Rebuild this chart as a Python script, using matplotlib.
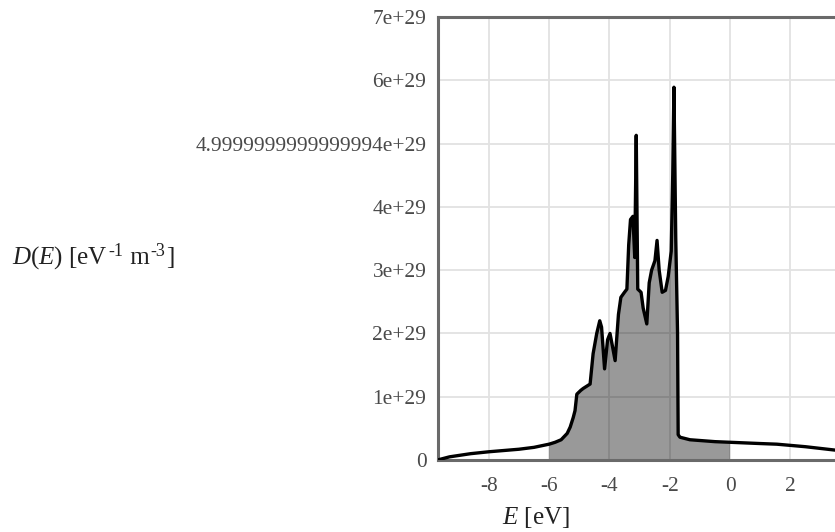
import matplotlib
matplotlib.use("Agg")
import matplotlib.pyplot as plt
import numpy as np

# Energy (eV) and density of states (eV^-1 m^-3)
energy = [-9.70, -9.30, -8.60, -8.00, -7.50, -7.00, -6.50, -6.00, -5.80, -5.60,
          -5.40, -5.30, -5.20, -5.14, -5.08, -4.95, -4.87, -4.64, -4.54, -4.42,
          -4.32, -4.26, -4.16, -4.06, -3.98, -3.90, -3.81, -3.70, -3.62, -3.50,
          -3.42, -3.36, -3.30, -3.22, -3.16, -3.11, -3.06, -2.95, -2.88, -2.76,
          -2.68, -2.60, -2.49, -2.42, -2.35, -2.25, -2.14, -2.05, -1.95, -1.90,
          -1.86, -1.80, -1.74, -1.72, -1.66, -1.33, -0.50, 0.00, 1.00, 1.55,
          2.50, 3.60]
dos_e29 = [0.00, 0.05, 0.10, 0.13, 0.15, 0.17, 0.20, 0.25, 0.28, 0.32,
           0.42, 0.52, 0.67, 0.78, 1.04, 1.10, 1.13, 1.20, 1.68, 2.00,
           2.20, 2.10, 1.44, 1.90, 2.00, 1.80, 1.57, 2.30, 2.57, 2.65,
           2.70, 3.40, 3.80, 3.85, 3.20, 5.13, 2.70, 2.65, 2.40, 2.15,
           2.80, 3.00, 3.15, 3.47, 3.00, 2.65, 2.68, 2.90, 3.30, 4.50,
           5.89, 3.50, 2.00, 0.40, 0.36, 0.32, 0.29, 0.28, 0.26, 0.25,
           0.21, 0.15]
fill_range = (-6.0, 0.0)
xticks = [-8, -6, -4, -2, 0, 2]
xtick_labels = ["-8", "-6", "-4", "-2", "0", "2"]
yticks = [0, 1e29, 2e29, 3e29, 4e29, 5e29, 6e29, 7e29]
ytick_labels = ["0", "1e+29", "2e+29", "3e+29", "4e+29",
                "4.9999999999999994e+29", "6e+29", "7e+29"]

E = np.array(energy)
D = np.array(dos_e29) * 1e29

plt.rcParams['font.family'] = ['Liberation Serif', 'DejaVu Serif']
plt.rcParams['mathtext.fontset'] = 'custom'
plt.rcParams['mathtext.rm'] = 'Liberation Serif'
plt.rcParams['mathtext.it'] = 'Liberation Serif:italic'
plt.rcParams['axes.unicode_minus'] = False

W, H = 835, 532
fig = plt.figure(figsize=(W / 100, H / 100), dpi=100)
left_px, right_px, top_px, bot_px = 437.5, 838.6, 17, 460
ax = fig.add_axes([left_px / W, 1 - bot_px / H, (right_px - left_px) / W, (bot_px - top_px) / H])

ax.set_xlim(-9.7, 3.6)
ax.set_ylim(0, 7e29)

ax.grid(True, color='#e2e2e2', linewidth=1.3, zorder=0)
ax.set_axisbelow(True)

mask = (E >= fill_range[0]) & (E <= fill_range[1])
ax.fill_between(E, 0, D, where=mask, facecolor='black', alpha=0.4, linewidth=0, zorder=2)
ax.plot(E, D, color='black', linewidth=2.4, solid_joinstyle='round', zorder=3)

ax.set_xticks(xticks)
ax.set_xticklabels(xtick_labels)
ax.set_yticks(yticks)
ax.set_yticklabels(ytick_labels)
ax.tick_params(axis='both', length=0, labelsize=15.4, colors='#4a4a4a')
ax.tick_params(axis='y', pad=8)
ax.tick_params(axis='x', pad=12)

for side in ['left', 'top', 'bottom', 'right']:
    ax.spines[side].set_color('#6a6a6a')
    ax.spines[side].set_linewidth(2.2)

lab_color = '#222222'
fig.text(536 / W, 1 - 517 / H, r"$E$ [eV]", ha='center', va='center', fontsize=18, color=lab_color)

# y label built from pieces so superscripts keep a hyphen
base_y = 1 - 264 / H
t1 = fig.text(12 / W, base_y, r"$D$($E$) [eV", ha='left', va='baseline', fontsize=18, color=lab_color)
t2 = fig.text(0, 0, "-1", fontsize=13, color=lab_color, va='baseline', ha='left')
t3 = fig.text(0, 0, " m", fontsize=18, color=lab_color, va='baseline', ha='left')
t4 = fig.text(0, 0, "-3", fontsize=13, color=lab_color, va='baseline', ha='left')
t5 = fig.text(0, 0, "]", fontsize=18, color=lab_color, va='baseline', ha='left')

fig.canvas.draw()
r = fig.canvas.get_renderer()

def right_px_of(t):
    return t.get_window_extent(r).x1

by = base_y * H
sup = 8.5
x = right_px_of(t1) + 1
t2.set_position((x / W, (by + sup) / H))
fig.canvas.draw()
x = right_px_of(t2)
t3.set_position((x / W, by / H))
fig.canvas.draw()
x = right_px_of(t3) + 1
t4.set_position((x / W, (by + sup) / H))
fig.canvas.draw()
x = right_px_of(t4) + 1
t5.set_position((x / W, by / H))

fig.savefig("out.png", dpi=100)
